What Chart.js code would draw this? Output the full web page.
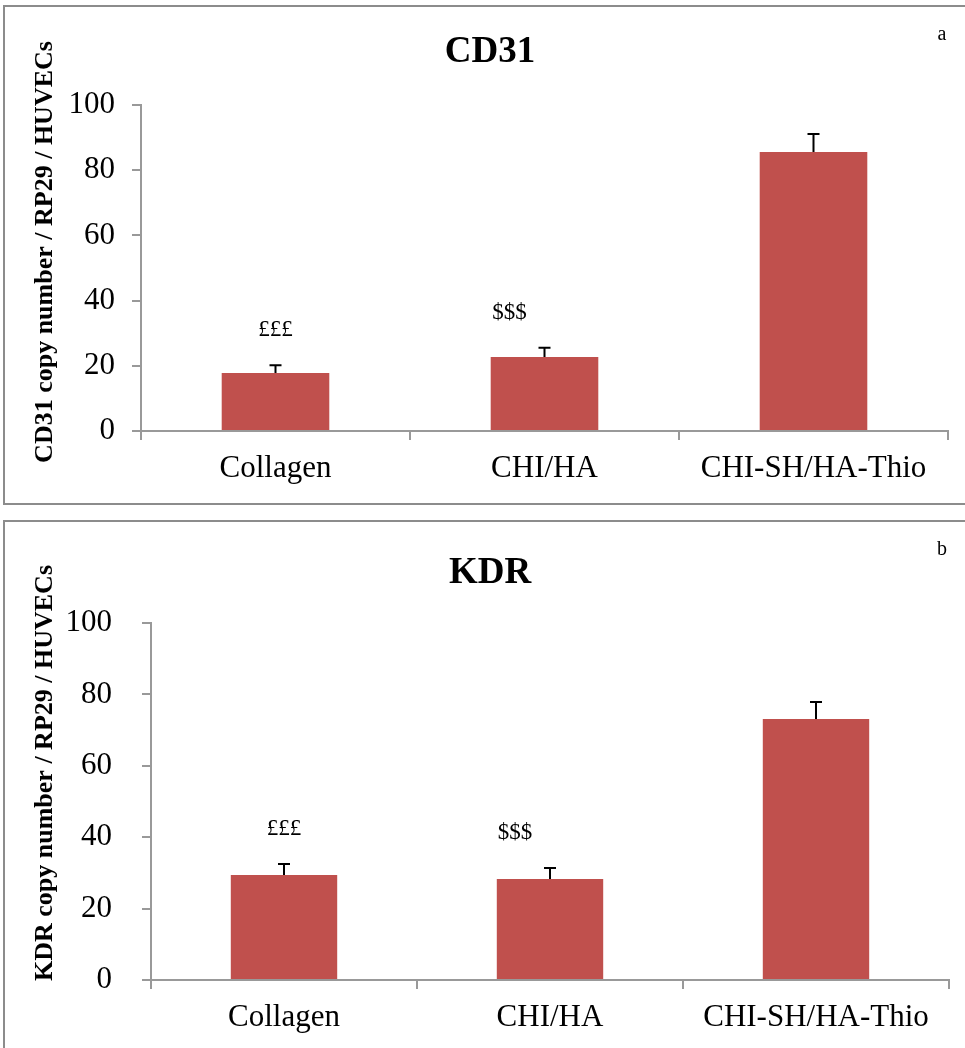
<!DOCTYPE html>
<html>
<head>
<meta charset="utf-8">
<script src="https://cdn.jsdelivr.net/npm/chart.js@4"></script>
<style>
  body { margin: 0; background: #fff; overflow: hidden; width: 965px; height: 1048px; position: relative; }
  .box { position: absolute; left: 3px; width: 1000px; border: 2px solid #8c8c8c; }
  canvas { position: absolute; left: 0; }
</style>
</head>
<body>
<div class="box" style="top:5px;height:496px;"></div>
<div class="box" style="top:520px;height:600px;"></div>
<canvas id="chart-1" width="965" height="510" style="top:0px"></canvas>
<canvas id="chart-2" width="965" height="535" style="top:513px"></canvas>
<script>
// values
const categories = ["Collagen", "CHI/HA", "CHI-SH/HA-Thio"];
const cd31Values = [17.8, 22.7, 85.6];
const cd31Errors = [2.4, 2.8, 5.5];
const kdrValues = [29.4, 28.3, 73.1];
const kdrErrors = [3.1, 3.1, 4.8];
const yTicks = [0, 20, 40, 60, 80, 100];
const marks = ["£££", "$$$", ""];

const serif = "'Liberation Serif', 'Times New Roman', serif";
const barColor = "#C0504D";
const axisColor = "#999999";

// error bars, significance marks, titles and panel letter
const extras = {
    id: "extras",
    afterDatasetsDraw(chart, args, opts) {
        const ctx = chart.ctx;
        const x = chart.scales.x, y = chart.scales.y;
        const vals = chart.data.datasets[0].data;
        ctx.save();
        ctx.strokeStyle = "#000";
        ctx.lineWidth = 2;
        vals.forEach((v, i) => {
            const cx = x.getPixelForValue(i);
            const y0 = y.getPixelForValue(v);
            const y1 = y.getPixelForValue(v + opts.errors[i]);
            ctx.beginPath();
            ctx.moveTo(cx, y0);
            ctx.lineTo(cx, y1);
            ctx.moveTo(cx - 6, y1);
            ctx.lineTo(cx + 6, y1);
            ctx.stroke();
            if (marks[i]) {
                ctx.fillStyle = "#000";
                ctx.font = "23px " + serif;
                ctx.textAlign = "center";
                ctx.textBaseline = "middle";
                const dx = i === 1 ? -35 : 0;
                ctx.fillText(marks[i], cx + dx, y1 - 35);
            }
        });
        ctx.fillStyle = "#000";
        ctx.textAlign = "center";
        ctx.textBaseline = "alphabetic";
        ctx.font = "bold 37px " + serif;
        ctx.fillText(opts.title, 490, opts.titleY);
        ctx.font = "20px " + serif;
        ctx.fillText(opts.letter, 942, opts.letterY);
        ctx.translate(45, opts.yTitleY);
        ctx.rotate(-Math.PI / 2);
        ctx.textBaseline = "middle";
        ctx.font = "bold 26px " + serif;
        ctx.fillText(opts.yTitle, 0, 0);
        ctx.restore();
    }
};

function makeChart(id, values, errors, opt) {
    const ctx = document.getElementById(id).getContext("2d");
    return new Chart(ctx, {
        type: "bar",
        data: {
            labels: categories,
            datasets: [{
                data: values,
                backgroundColor: barColor,
                borderWidth: 0,
                barPercentage: 0.4,
                categoryPercentage: 1.0,
            }],
        },
        options: {
            responsive: false,
            animation: false,
            layout: { padding: { top: opt.top, right: opt.right, left: 0, bottom: 0 } },
            plugins: {
                legend: { display: false },
                tooltip: { enabled: false },
                extras: {
                    errors: errors,
                    title: opt.title,
                    titleY: opt.titleY,
                    letter: opt.letter,
                    letterY: opt.letterY,
                    yTitle: opt.yTitle,
                    yTitleY: opt.yTitleY,
                },
            },
            scales: {
                x: {
                    grid: { offset: true, drawOnChartArea: false, drawTicks: true, tickLength: 9, color: axisColor, lineWidth: 2 },
                    border: { display: true, color: axisColor, width: 2 },
                    ticks: { color: "#000", font: { family: serif, size: 31 }, padding: 10, maxRotation: 0 },
                    afterFit: s => { s.height = opt.xHeight; },
                },
                y: {
                    min: 0,
                    max: 100,
                    afterBuildTicks: s => { s.ticks = yTicks.map(v => ({ value: v })); },
                    grid: { drawOnChartArea: false, drawTicks: true, tickLength: 9, color: axisColor, lineWidth: 2 },
                    border: { display: true, color: axisColor, width: 2 },
                    ticks: { color: "#000", font: { family: serif, size: 31 }, padding: opt.tickPad },
                    afterFit: s => { s.width = opt.yWidth; },
                },
            },
        },
        plugins: [extras],
    });
}

makeChart("chart-1", cd31Values, cd31Errors, {
    top: 105, right: 17, xHeight: 79, yWidth: 141, tickPad: 17,
    title: "CD31", titleY: 62, letter: "a", letterY: 40,
    yTitle: "CD31 copy number / RP29 / HUVECs", yTitleY: 252,
});

makeChart("chart-2", kdrValues, kdrErrors, {
    top: 110, right: 16, xHeight: 68, yWidth: 151, tickPad: 30,
    title: "KDR", titleY: 70, letter: "b", letterY: 42,
    yTitle: "KDR copy number / RP29 / HUVECs", yTitleY: 260,
});
</script>
</body>
</html>
